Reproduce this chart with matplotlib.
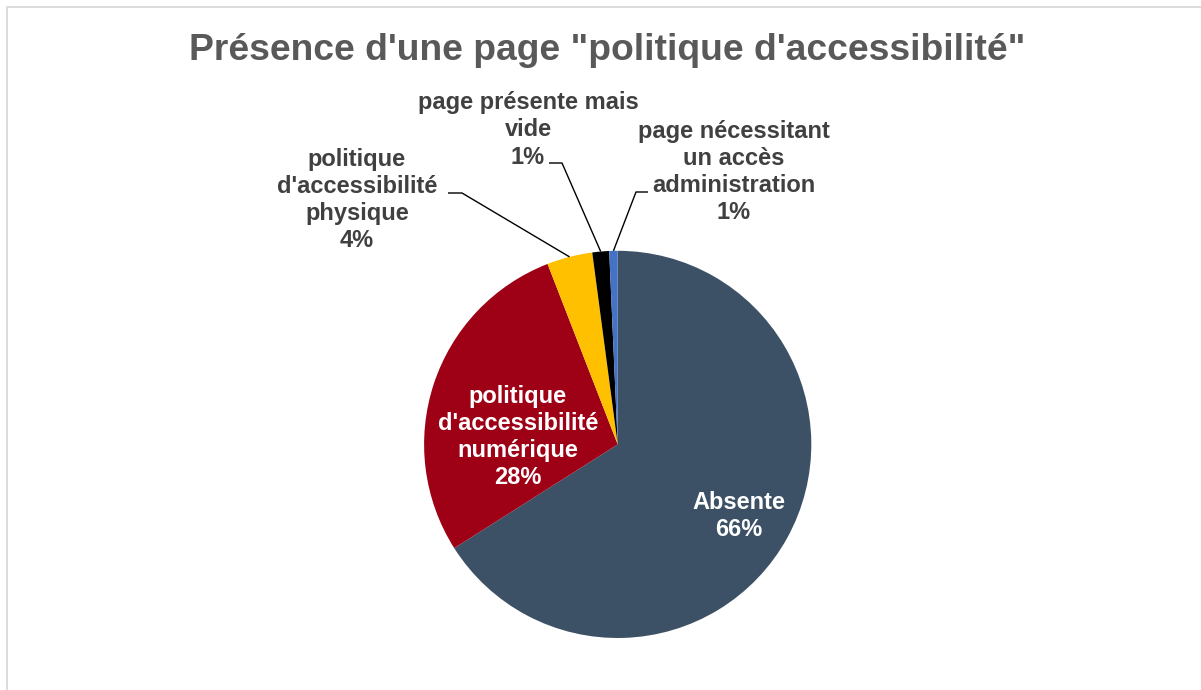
import numpy as np
import matplotlib
matplotlib.use("Agg")
import matplotlib.pyplot as plt

# ---- data ----
categories = ["Absente",
              "politique\nd'accessibilité\nnumérique",
              "politique\nd'accessibilité\nphysique",
              "page présente mais\nvide",
              "page nécessitant\nun accès\nadministration"]
values = [66.0, 28.1, 3.8, 1.4, 0.7]
pct_labels = ["66%", "28%", "4%", "1%", "1%"]
colors = ["#3D5166", "#9E0016", "#FFC000", "#000000", "#4472C4"]
title = 'Présence d\'une page "politique d\'accessibilité"'

W, H = 1201, 690
fig = plt.figure(figsize=(W / 100, H / 100), dpi=100)
ax = fig.add_axes([0, 0, 1, 1])

def Y(y):
    return H - y

cx, cy, R = 617.7, Y(444.4), 193.6
wedges, _ = ax.pie(values, colors=colors, startangle=90, counterclock=False,
                   center=(cx, cy), radius=R, frame=True,
                   wedgeprops=dict(linewidth=0))
ax.set_xlim(0, W)
ax.set_ylim(0, H)
ax.set_aspect("equal")
ax.axis("off")

font = dict(family=["Liberation Sans", "DejaVu Sans"], fontweight="bold")
lab_fs = 17
ls = 1.24

# label layout: (x, y_px, color)
layout = [
    (739, 516, "white"),
    (518, 437, "white"),
    (357, 200, "#404040"),
    (528, 130, "#404040"),
    (734, 172, "#404040"),
]
for i, (x, y, c) in enumerate(layout):
    ax.text(x, Y(y), categories[i] + "\n" + pct_labels[i], ha="center", va="center",
            multialignment="center", color=c, fontsize=lab_fs, linespacing=ls, **font)

# leader lines: edge point from wedge geometry; elbow/end are layout
def edge_point(w):
    ang = np.deg2rad((w.theta1 + w.theta2) / 2)
    return cx + R * np.cos(ang), cy + R * np.sin(ang)

leaders = {2: [(462, 193), (448, 193)],
           3: [(562, 163), (549, 163)],
           4: [(636, 192), (648, 192)]}
for i, pts in leaders.items():
    ex, ey = edge_point(wedges[i])
    xs = [ex] + [p[0] for p in pts]
    ys = [ey] + [Y(p[1]) for p in pts]
    ax.plot(xs, ys, color="black", lw=1.0, solid_capstyle="butt")

ax.text(607, Y(51), title, ha="center", va="center", color="#595959",
        fontsize=26.8, **font)

# chart border (top and left visible)
ax.plot([6.5, 6.5, W], [0, Y(6.5), Y(6.5)], color="#D9D9D9", lw=1.3)

fig.savefig("out.png", dpi=100)
